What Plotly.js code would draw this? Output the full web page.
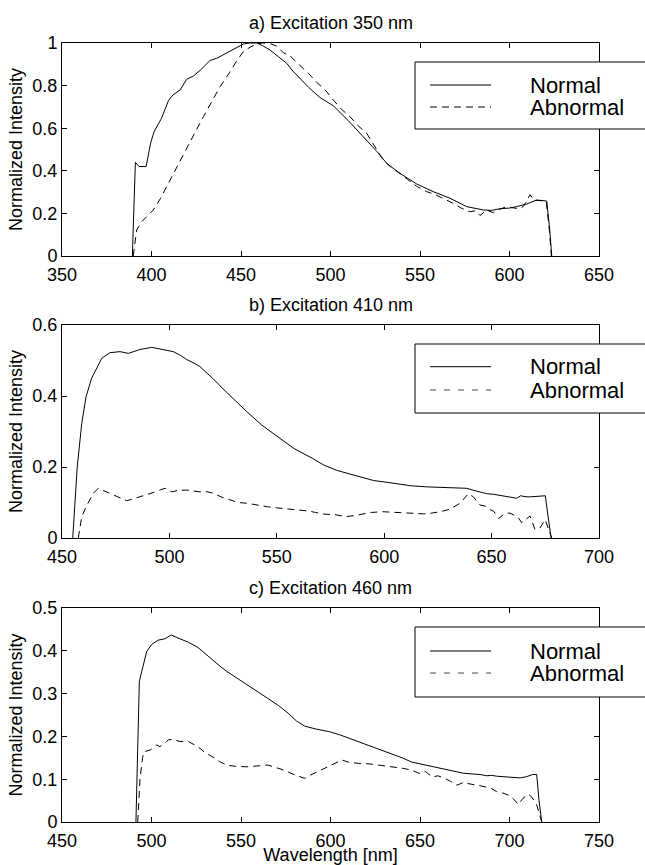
<!DOCTYPE html>
<html>
<head>
<meta charset="utf-8">
<script src="https://cdn.plot.ly/plotly-3.0.1.min.js"></script>
<style>html,body{margin:0;padding:0;background:#fff;overflow:hidden;}#chart{width:645px;height:865px;}</style>
</head>
<body>
<div id="chart"></div>
<script>
// ---- Panel a) Excitation 350 nm ----
var wlA_normal = [389.3,391.0,393.0,397.0,399.5,401.5,405.5,409.5,412,416,419.7,423.4,428,432.7,436.4,439,442,445,447.6,451.3,455,458.8,462,466.2,471,475.5,479,483,488,494,501.6,510,520.2,526,531.4,538.8,548.2,557.4,566.8,576,585.4,590,594.7,600,604,609.6,615.2,618,620.8,622.5,623.6];
var intA_normal = [0,0.44,0.42,0.42,0.53,0.585,0.645,0.73,0.756,0.78,0.83,0.845,0.878,0.918,0.928,0.94,0.951,0.968,0.98,0.995,1.0,1.0,0.988,0.967,0.935,0.905,0.868,0.832,0.79,0.745,0.705,0.635,0.545,0.49,0.435,0.388,0.338,0.302,0.271,0.232,0.216,0.214,0.222,0.225,0.232,0.244,0.263,0.262,0.258,0.12,0];
var wlA_abnormal = [389.8,390.7,391.7,394.5,398,401,405,410.3,415,419.7,424,429,433.5,438.3,443.9,447.5,451.3,455,458.8,462,466,470,473.6,478,481,484.8,488,492.3,497,501.6,506,510.9,515,520.2,525,529.5,534,538.8,543,548,553.7,558,563,568.6,573,578,581,583.5,587.2,591,594,598.4,602,605.9,608,611.5,613.5,617,620.5,622.3,623.4];
var intA_abnormal = [0,0.07,0.122,0.161,0.19,0.216,0.27,0.357,0.43,0.505,0.575,0.654,0.72,0.795,0.865,0.915,0.959,0.98,0.995,1.0,0.998,0.985,0.955,0.935,0.91,0.88,0.855,0.815,0.78,0.732,0.69,0.654,0.615,0.576,0.51,0.45,0.415,0.388,0.36,0.328,0.302,0.29,0.27,0.247,0.225,0.208,0.212,0.19,0.216,0.203,0.218,0.232,0.226,0.222,0.235,0.288,0.262,0.26,0.258,0.12,0];

// ---- Panel b) Excitation 410 nm ----
var wlB_normal = [455,457.1,459.2,461.2,463.8,466.2,468.5,472.3,477,480.9,483.5,486.3,491.8,497.2,501.8,505,508,511,514.2,517,520.5,525,530,536,543,551.4,558,566.7,572,578.2,584,589.7,595,601.2,607,612.6,620,628,634,638.4,643,647.7,651,656,661.7,663.5,666,668.2,671,675,676.3,677.7];
var intB_normal = [0,0.201,0.323,0.398,0.45,0.478,0.506,0.522,0.525,0.52,0.526,0.531,0.537,0.531,0.525,0.515,0.503,0.494,0.483,0.467,0.448,0.42,0.39,0.356,0.318,0.281,0.252,0.224,0.205,0.19,0.18,0.17,0.162,0.157,0.151,0.147,0.144,0.142,0.141,0.14,0.132,0.125,0.123,0.118,0.112,0.119,0.116,0.116,0.118,0.119,0.06,0];
var wlB_abnormal = [457.6,459.2,461.2,463,464.6,466.9,470.8,475.5,480.1,483,486.3,492.5,496,498,501.1,504,508,514.2,517,520.5,524,528.4,532,536,541,545.6,550,555.2,560,564.8,568,572.4,577,582,586,589.7,594,599.3,604,608.8,613,618.4,622,626,630.6,633,635.3,639.2,641.5,644.6,647,649.3,651,653.3,656.2,658.6,662.4,664,667.9,670.2,672.5,674.9,678];
var intB_abnormal = [0,0.06,0.088,0.11,0.126,0.14,0.13,0.118,0.105,0.11,0.116,0.128,0.136,0.14,0.13,0.134,0.135,0.13,0.131,0.126,0.116,0.107,0.1,0.098,0.092,0.088,0.085,0.082,0.08,0.076,0.072,0.067,0.066,0.06,0.063,0.067,0.072,0.074,0.073,0.071,0.07,0.068,0.07,0.074,0.081,0.09,0.098,0.125,0.116,0.093,0.09,0.08,0.075,0.055,0.07,0.07,0.058,0.043,0.062,0.024,0.028,0.052,0];

// ---- Panel c) Excitation 460 nm ----
var wlC_normal = [491.3,492.6,493.2,494.5,497.3,500.1,503.8,507.5,511,515.9,520.6,525.9,530,534.5,538,542,548,553.4,559,564.9,571,576.4,581,585.6,592,599.4,605,610.9,617,622.4,628,633.9,640,645.4,651,656.9,664.9,670,674.2,679.9,683.5,687.3,690,692.8,697,702.1,706,709.6,713,715.2,716.5,718];
var intC_normal = [0,0.2,0.328,0.351,0.398,0.415,0.425,0.428,0.437,0.428,0.42,0.408,0.393,0.377,0.365,0.352,0.335,0.32,0.305,0.289,0.272,0.254,0.236,0.224,0.217,0.211,0.204,0.195,0.185,0.176,0.168,0.16,0.15,0.14,0.135,0.13,0.124,0.118,0.114,0.112,0.111,0.108,0.109,0.107,0.106,0.104,0.103,0.106,0.111,0.111,0.05,0];
var wlC_abnormal = [492.3,493.0,493.6,495.0,495.8,499.2,502.9,504.7,507.5,509.4,512,515.9,520.6,525.9,530,535,538.5,542,547,553.4,558,564.9,569,574.1,580,585.6,589,592.5,599.4,603,606.3,610,615.5,621,627,632,636.2,641,645.4,650,653,656.9,660,663.8,667,670.7,674,677.6,681.7,684.5,686.3,690,692.8,696,699.3,702,704.9,707.5,710.5,712.5,715.2,718];
var intC_abnormal = [0,0.05,0.102,0.15,0.164,0.168,0.18,0.176,0.184,0.192,0.193,0.188,0.188,0.176,0.162,0.15,0.14,0.133,0.13,0.129,0.131,0.133,0.128,0.121,0.11,0.102,0.11,0.117,0.129,0.138,0.145,0.14,0.137,0.136,0.133,0.13,0.129,0.125,0.121,0.113,0.118,0.105,0.108,0.102,0.095,0.086,0.092,0.09,0.086,0.084,0.082,0.078,0.071,0.068,0.063,0.055,0.041,0.055,0.065,0.058,0.04,0];

var panelTitles = ['a) Excitation 350 nm', 'b) Excitation 410 nm', 'c) Excitation 460 nm'];
var seriesNames = ['Normal', 'Abnormal'];
var xRanges = [[350, 650], [450, 700], [450, 750]];
var yRanges = [[0, 1], [0, 0.6], [0, 0.5]];
var yTicks = [0.2, 0.2, 0.1];
var xTitle = 'Wavelength [nm]';
var yTitle = 'Normalized Intensity';

var FONT = 'Liberation Sans, Arial, Helvetica, sans-serif';
var W = 645, H = 865, ML = 62, MR = 46, MT = 43, MB = 43;
var PW = W - ML - MR, PH = H - MT - MB;
function px(x) { return (x - ML) / PW; }
function py(y) { return (H - MB - y) / PH; }

var DASH = '7px,5px';
var data = [
  {x: wlA_normal, y: intA_normal, xaxis: 'x', yaxis: 'y', name: seriesNames[0], mode: 'lines', line: {color: '#000', width: 1}},
  {x: wlA_abnormal, y: intA_abnormal, xaxis: 'x', yaxis: 'y', name: seriesNames[1], mode: 'lines', line: {color: '#000', width: 1, dash: DASH}},
  {x: wlB_normal, y: intB_normal, xaxis: 'x2', yaxis: 'y2', name: seriesNames[0], mode: 'lines', line: {color: '#000', width: 1}},
  {x: wlB_abnormal, y: intB_abnormal, xaxis: 'x2', yaxis: 'y2', name: seriesNames[1], mode: 'lines', line: {color: '#000', width: 1, dash: DASH}},
  {x: wlC_normal, y: intC_normal, xaxis: 'x3', yaxis: 'y3', name: seriesNames[0], mode: 'lines', line: {color: '#000', width: 1}},
  {x: wlC_abnormal, y: intC_abnormal, xaxis: 'x3', yaxis: 'y3', name: seriesNames[1], mode: 'lines', line: {color: '#000', width: 1, dash: DASH}}
];

// panel pixel boxes [top, bottom]
var boxes = [[43, 256], [325, 538], [608, 822]];
var titleY = [23, 305, 588];
var legendBoxes = [[62, 129, 85, 107], [344, 413, 366.7, 390], [627, 697, 651, 673]];

function xaxisDef(i) {
  return {
    domain: [0, 1], anchor: i === 0 ? 'y' : 'y' + (i + 1),
    range: xRanges[i], tick0: xRanges[i][0], dtick: 50,
    ticks: 'inside', ticklen: 5, tickwidth: 1, tickcolor: '#000',
    showline: true, linecolor: '#000', linewidth: 1, mirror: 'ticks',
    showgrid: false, zeroline: false, ticklabelstandoff: 2,
    tickfont: {family: FONT, size: 18, color: '#000'}
  };
}
function yaxisDef(i) {
  return {
    domain: [py(boxes[i][1]), py(boxes[i][0])], anchor: i === 0 ? 'x' : 'x' + (i + 1),
    range: yRanges[i], tick0: 0, dtick: yTicks[i],
    ticks: 'inside', ticklen: 5, tickwidth: 1, tickcolor: '#000',
    showline: true, linecolor: '#000', linewidth: 1, mirror: 'ticks',
    showgrid: false, zeroline: false,
    tickfont: {family: FONT, size: 18, color: '#000'},
    title: {text: yTitle, font: {family: FONT, size: 18, color: '#000'}, standoff: 5},
    automargin: true
  };
}

var layout = {
  width: W, height: H,
  margin: {l: ML, r: MR, t: MT, b: MB},
  paper_bgcolor: '#fff', plot_bgcolor: '#fff',
  showlegend: false,
  font: {family: FONT, color: '#000'},
  shapes: [], annotations: []
};
var XR = (W - ML) / PW;  // right edge of the page in paper units
for (var i = 0; i < 3; i++) {
  layout['xaxis' + (i === 0 ? '' : i + 1)] = xaxisDef(i);
  layout['yaxis' + (i === 0 ? '' : i + 1)] = yaxisDef(i);
  layout.annotations.push({
    xref: 'paper', yref: 'paper', x: 0.5, y: py(titleY[i]), xanchor: 'center', yanchor: 'middle',
    text: panelTitles[i], showarrow: false, font: {family: FONT, size: 18, color: '#000'}
  });
  var lb = legendBoxes[i];
  var x0 = px(415), y0 = py(lb[1]), y1 = py(lb[0]);
  // white legend background, open on the right (it runs past the page edge)
  layout.shapes.push({type: 'rect', xref: 'paper', yref: 'paper', x0: x0, x1: XR, y0: y0, y1: y1,
    fillcolor: '#fff', line: {width: 0}, layer: 'above'});
  layout.shapes.push({type: 'path', xref: 'paper', yref: 'paper',
    path: 'M' + XR + ',' + y1 + ' L' + x0 + ',' + y1 + ' L' + x0 + ',' + y0 + ' L' + XR + ',' + y0,
    line: {color: '#000', width: 1}, layer: 'above'});
  layout.shapes.push({type: 'line', xref: 'paper', yref: 'paper', x0: px(430), x1: px(491), y0: py(lb[2]), y1: py(lb[2]),
    line: {color: '#000', width: 1}, layer: 'above'});
  layout.shapes.push({type: 'line', xref: 'paper', yref: 'paper', x0: px(430), x1: px(491), y0: py(lb[3]), y1: py(lb[3]),
    line: {color: i === 0 ? '#000' : '#444', width: 1, dash: i === 0 ? DASH : '6px,8px'}, layer: 'above'});
  for (var k = 0; k < 2; k++) {
    layout.annotations.push({
      xref: 'paper', yref: 'paper', x: px(528), y: py(lb[2 + k]), xanchor: 'left', yanchor: 'middle',
      text: seriesNames[k], showarrow: false, font: {family: FONT, size: 22, color: '#000'}
    });
  }
}
layout.xaxis3.title = {text: xTitle, font: {family: FONT, size: 18, color: '#000'}, standoff: 6};
layout.xaxis3.automargin = false;

Plotly.newPlot('chart', data, layout, {staticPlot: true, displayModeBar: false});
</script>
</body>
</html>
